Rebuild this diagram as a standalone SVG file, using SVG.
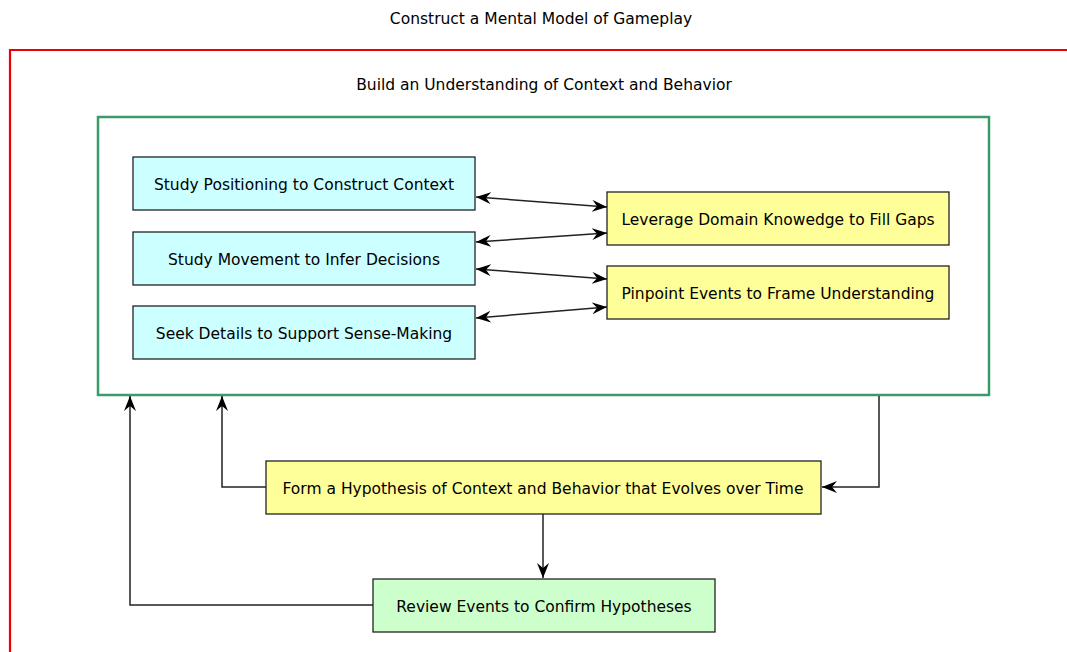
<svg xmlns="http://www.w3.org/2000/svg" width="1067" height="652" viewBox="0 0 1067 652">
<style>
text{font-family:"DejaVu Sans",sans-serif;font-size:15.5px;fill:#000;text-anchor:middle;dominant-baseline:central}
.n{stroke:#222;stroke-width:1.3}
.cy{fill:#ccffff}.ye{fill:#ffff99}.gr{fill:#ccffcc}
.c{fill:none;stroke:#222;stroke-width:1.5}
</style>
<defs>
<marker id="ah" viewBox="0 0 15 12" refX="15" refY="6" markerWidth="15" markerHeight="12" markerUnits="userSpaceOnUse" orient="auto-start-reverse">
<path d="M0,0 L15,6 L0,12 L5,6 Z" fill="#000"/>
</marker>
</defs>
<rect width="1067" height="652" fill="#fff"/>
<g id="outer">
<text x="541" y="19">Construct a Mental Model of Gameplay</text>
<path d="M1067,50 H10 V652" fill="none" stroke="#ee0000" stroke-width="2.2"/>
</g>
<g id="inner">
<text x="544" y="85">Build an Understanding of Context and Behavior</text>
<rect x="98" y="117" width="891" height="278" fill="none" stroke="#3a9a6c" stroke-width="2.5"/>
</g>
<g id="n1"><rect class="n cy" x="133" y="157" width="342" height="53"/><text x="304" y="185">Study Positioning to Construct Context</text></g>
<g id="n2"><rect class="n cy" x="133" y="232" width="342" height="53"/><text x="304" y="260">Study Movement to Infer Decisions</text></g>
<g id="n3"><rect class="n cy" x="133" y="306" width="342" height="53"/><text x="304" y="334">Seek Details to Support Sense-Making</text></g>
<g id="n4"><rect class="n ye" x="607" y="192" width="342" height="53"/><text x="778" y="220">Leverage Domain Knowedge to Fill Gaps</text></g>
<g id="n5"><rect class="n ye" x="607" y="266" width="342" height="53"/><text x="778" y="294">Pinpoint Events to Frame Understanding</text></g>
<g id="n6"><rect class="n ye" x="266" y="461" width="555" height="53"/><text x="543" y="489">Form a Hypothesis of Context and Behavior that Evolves over Time</text></g>
<g id="n7"><rect class="n gr" x="373" y="579" width="342" height="53"/><text x="544" y="607">Review Events to Confirm Hypotheses</text></g>
<g id="connectors">
<path class="c" d="M476,197 L607,207" marker-start="url(#ah)" marker-end="url(#ah)"/>
<path class="c" d="M476,242 L607,233" marker-start="url(#ah)" marker-end="url(#ah)"/>
<path class="c" d="M476,269 L607,279" marker-start="url(#ah)" marker-end="url(#ah)"/>
<path class="c" d="M476,318 L607,307" marker-start="url(#ah)" marker-end="url(#ah)"/>
<path class="c" d="M879,396 V487 H822" marker-end="url(#ah)"/>
<path class="c" d="M266,487 H222 V396" marker-end="url(#ah)"/>
<path class="c" d="M543,514 V578" marker-end="url(#ah)"/>
<path class="c" d="M373,605 H130 V396" marker-end="url(#ah)"/>
</g>
</svg>
